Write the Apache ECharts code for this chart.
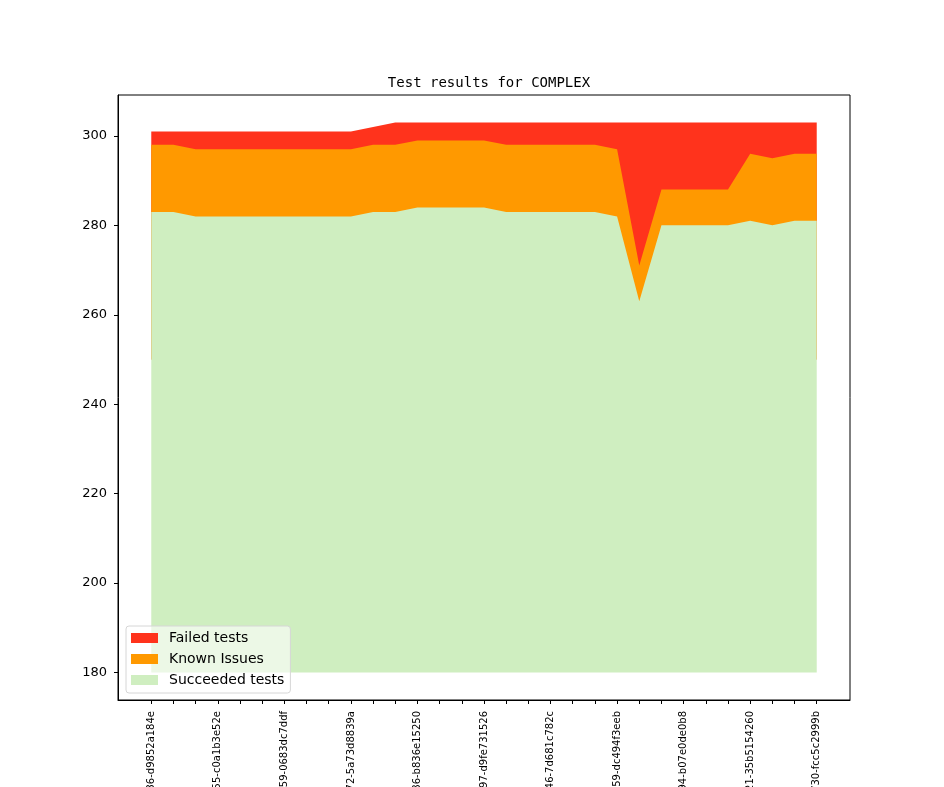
<!DOCTYPE html>
<html>
<head>
<meta charset="utf-8">
<script src="https://cdn.jsdelivr.net/npm/echarts@6/dist/echarts.min.js"></script>
<style>
  html, body { margin: 0; padding: 0; background: #fff; }
  #chart { width: 944px; height: 787px; }
</style>
</head>
<body>
<div id="chart"></div>
<script>
// values, one point per build
var succeeded = [283, 283, 282, 282, 282, 282, 282, 282, 282, 282, 283, 283, 284, 284, 284, 284,
                 283, 283, 283, 283, 283, 282, 263, 280, 280, 280, 280, 281, 280, 281, 281];
var known = [15, 15, 15, 15, 15, 15, 15, 15, 15, 15, 15, 15, 15, 15, 15, 15,
             15, 15, 15, 15, 15, 15, 8, 8, 8, 8, 8, 15, 15, 15, 15];
var failed = [3, 3, 4, 4, 4, 4, 4, 4, 4, 4, 4, 5, 4, 4, 4, 4,
              5, 5, 5, 5, 5, 6, 32, 15, 15, 15, 15, 7, 8, 7, 7];

// only every third build carries a label
var tickLabels = ['36-d9852a184e', '55-c0a1b3e52e', '59-0683dc7ddf', '72-5a73d8839a',
                  '86-b836e15250', '97-d9fe731526', '46-7d681c782c', '59-dc494f3eeb',
                  '94-b07e0de0b8', '21-35b5154260', '730-fcc5c2999b'];
var yTicks = [180, 200, 220, 240, 260, 280, 300];

var tickIdx = [];
for (var i = 0; i < succeeded.length; i++) tickIdx.push(i);
var labelIdx = [];
for (var j = 0; j < tickLabels.length; j++) labelIdx.push(j * 3);

// stack by hand: each layer is filled up to its cumulative top,
// the lower layers are drawn over the higher ones
function layer(parts) {
    var out = [];
    for (var k = 0; k < parts[0].length; k++) {
        var s = 0;
        for (var p = 0; p < parts.length; p++) s += parts[p][k];
        out.push([k, s]);
    }
    return out;
}

var chart = echarts.init(document.getElementById('chart'));

function area(name, data, color, origin) {
    return {
        name: name,
        type: 'line',
        data: data,
        showSymbol: false,
        symbol: 'none',
        silent: true,
        lineStyle: {width: 0},
        itemStyle: {color: color},
        areaStyle: {color: color, opacity: 1, origin: origin},
        emphasis: {disabled: true}
    };
}

chart.setOption({
    animation: false,
    textStyle: {fontFamily: 'DejaVu Sans'},
    title: {
        text: 'Test results for COMPLEX',
        left: 484, top: 71, textAlign: 'center',
        textStyle: {fontFamily: 'DejaVu Sans Mono', fontSize: 14, fontWeight: 'normal', color: '#000'}
    },
    grid: {
        left: 118, top: 95, right: 94, bottom: 87,
        outerBoundsMode: 'none', containLabel: false,
        show: true, borderColor: '#000', borderWidth: 1, backgroundColor: 'transparent'
    },
    legend: {
        orient: 'vertical',
        left: 126, top: 626,
        padding: [5, 6, 6, 5],
        itemGap: 7,
        itemWidth: 27, itemHeight: 10,
        icon: 'rect',
        backgroundColor: 'rgba(255,255,255,0.6)',
        borderColor: '#d6d6d6', borderWidth: 1, borderRadius: 3,
        textStyle: {fontSize: 14, lineHeight: 14, color: '#000', padding: [0, 0, 0, 6]},
        data: ['Failed tests', 'Known Issues', 'Succeeded tests']
    },
    xAxis: {
        type: 'value',
        min: -1.5, max: 31.5,
        splitLine: {show: false},
        axisLine: {show: true, onZero: false, lineStyle: {color: '#000'}},
        axisTick: {show: true, length: 4, customValues: tickIdx, lineStyle: {color: '#000'}},
        axisLabel: {
            customValues: labelIdx,
            rotate: 90,
            fontSize: 10,
            color: '#000',
            margin: 11,
            formatter: function (v) { return tickLabels[Math.round(v / 3)]; }
        }
    },
    yAxis: {
        type: 'value',
        min: 173.85, max: 309.15,
        splitLine: {show: false},
        axisLine: {show: true, onZero: false, lineStyle: {color: '#000'}},
        axisTick: {show: true, length: 4, customValues: yTicks, lineStyle: {color: '#000'}},
        axisLabel: {customValues: yTicks, fontSize: 13, color: '#000', margin: 11}
    },
    series: [
        area('Failed tests', layer([succeeded, known, failed]), '#ff331c', 250),
        area('Known Issues', layer([succeeded, known]), '#ff9900', 250),
        area('Succeeded tests', layer([succeeded]), '#cfeec0', 180)
    ]
});
</script>
</body>
</html>
